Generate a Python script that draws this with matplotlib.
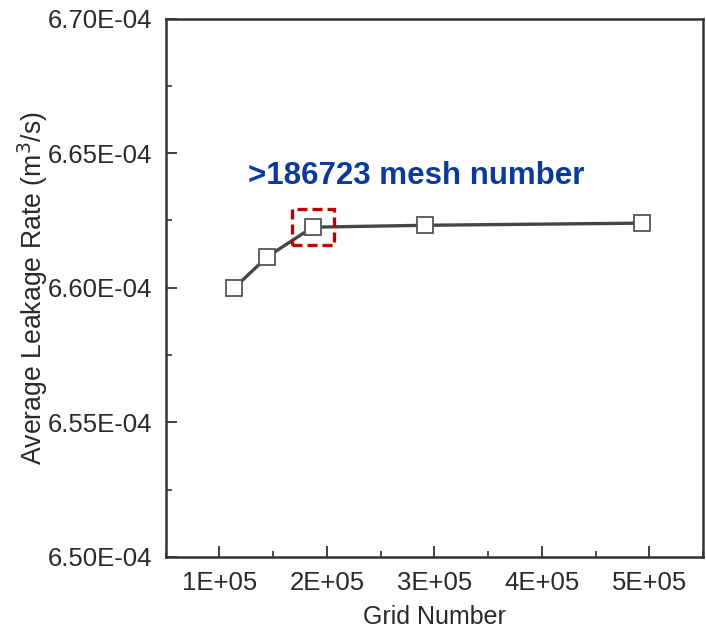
import matplotlib
matplotlib.use('Agg')
import matplotlib.pyplot as plt
from matplotlib.patches import Rectangle
from matplotlib.ticker import FuncFormatter, MultipleLocator

plt.rcParams['font.family'] = ['Liberation Sans', 'DejaVu Sans']

# ===================== 数据 =====================
grid_number = [114000, 144500, 186723, 291000, 493000]
leakage_rate = [6.600e-4, 6.6115e-4, 6.6225e-4, 6.6232e-4, 6.624e-4]
highlight_idx = 2
note_text = '>186723 mesh number'

fig = plt.figure(figsize=(7.06, 6.32), dpi=100)
ax = fig.add_axes([0.2347, 0.1187, 0.7611, 0.852])

ax.plot(grid_number, leakage_rate, color='#454545', lw=2.4, marker='s', ms=12,
        mfc='white', mec='#555555', mew=1.3, zorder=3)

# 红色虚线框：标出网格无关点
hx, hy = grid_number[highlight_idx], leakage_rate[highlight_idx]
bw, bh = 0.39e5, 0.0134e-4
ax.add_patch(Rectangle((hx - bw / 2, hy - bh / 2), bw, bh, fill=False,
                       ec='#C00000', lw=2.4, ls=(0, (3, 1.5)), zorder=4))

ax.text(1.27e5, 6.6415e-4, note_text, color='#0B3A9A', fontsize=22.5,
        fontweight='bold', ha='left', va='center')

ax.set_xlim(0.5e5, 5.5e5)
ax.set_ylim(6.5e-4, 6.7e-4)
ax.xaxis.set_major_locator(MultipleLocator(1e5))
ax.xaxis.set_minor_locator(MultipleLocator(0.5e5))
ax.yaxis.set_major_locator(MultipleLocator(0.05e-4))
ax.yaxis.set_minor_locator(MultipleLocator(0.025e-4))
ax.xaxis.set_major_formatter(FuncFormatter(lambda v, p: f'{v / 1e5:.0f}E+05'))
ax.yaxis.set_major_formatter(FuncFormatter(lambda v, p: f'{v * 1e4:.2f}E-04'))

ax.tick_params(which='major', direction='in', length=8, width=1.3, labelsize=18.5,
               colors='#333333', labelcolor='#2a2a2a', pad=10)
ax.tick_params(which='minor', direction='in', length=4, width=1.2, colors='#333333')
ax.tick_params(top=False, right=False, which='both')
for s in ax.spines.values():
    s.set_linewidth(1.8)
    s.set_color('#333333')

ax.set_xlabel('Grid Number', fontsize=18, color='#2a2a2a', labelpad=7)
ax.set_ylabel('Average Leakage Rate (m$^3$/s)', fontsize=19.2, color='#2a2a2a', labelpad=-2)

plt.savefig('out.png', dpi=100)
